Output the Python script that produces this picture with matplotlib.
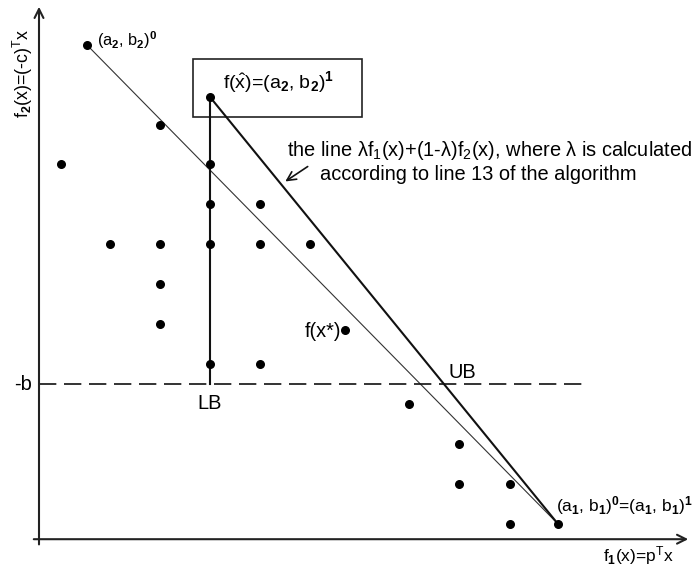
import matplotlib
matplotlib.use("Agg")
import matplotlib.pyplot as plt
from matplotlib.patches import Rectangle

plt.rcParams['font.family'] = ['Liberation Sans', 'DejaVu Sans']
plt.rcParams['mathtext.fontset'] = 'custom'
plt.rcParams['mathtext.rm'] = 'Liberation Sans'
plt.rcParams['mathtext.it'] = 'Liberation Sans'
plt.rcParams['mathtext.bf'] = 'Liberation Sans:bold'

# objective-space points (f1, f2)
pts_x = [1.0, 3.46, 2.46, 0.48, 3.46, 3.46, 4.46, 1.46, 2.46, 3.46, 4.46, 5.46,
         2.46, 2.46, 6.16, 3.46, 4.46, 7.44, 8.44, 8.44, 9.46, 9.46, 10.42]
pts_y = [12.375, 11.075, 10.375, 9.4, 9.4, 8.4, 8.4, 7.4, 7.4, 7.4, 7.4, 7.4,
         6.4, 5.4, 5.25, 4.4, 4.4, 3.4, 2.4, 1.4, 1.4, 0.4, 0.4]

a2b2_0 = (1.0, 12.375)
a2b2_1 = (3.46, 11.075)
a1b1 = (10.42, 0.4)
minus_b = 3.9
dash_end = 10.96

fig = plt.figure(figsize=(6.94, 5.74), dpi=100)
ax = fig.add_axes([0, 0, 1, 1])
ax.set_xlim(-0.74, 13.14)
ax.set_ylim(-0.85, 13.5)
ax.axis('off')

# axes arrows
ax.annotate('', xy=(13.08, 0.02), xytext=(-0.12, 0.02),
            arrowprops=dict(arrowstyle='->', lw=1.5, color='#222222', mutation_scale=16))
ax.annotate('', xy=(0.04, 13.4), xytext=(0.04, -0.18),
            arrowprops=dict(arrowstyle='->', lw=1.5, color='#222222', mutation_scale=16))

# lines
ax.plot([a2b2_0[0], a1b1[0]], [a2b2_0[1], a1b1[1]], color='#333333', lw=0.8)
ax.plot([a2b2_1[0], a1b1[0]], [a2b2_1[1], a1b1[1]], color='#111111', lw=1.5)
ax.plot([a2b2_1[0], a2b2_1[0]], [a2b2_1[1], minus_b], color='#111111', lw=1.5)
ax.plot([0.04, dash_end], [minus_b, minus_b], color='#111111', lw=1.2,
        dashes=(10.4, 4.6))

ax.scatter(pts_x, pts_y, s=30, color='black', zorder=3)

# box around f(x^)
ax.add_patch(Rectangle((3.12, 10.575), 3.38, 1.45, fill=False, lw=1.2, edgecolor='#222222'))

fs = 14.4
ax.text(1.2, 12.5, r'(a$_\mathbf{2}$, b$_\mathbf{2}$)$^\mathbf{0}$', fontsize=11.8, va='center')
ax.text(3.72, 11.45, r'f($\hat{\mathrm{x}}$)=(a$_\mathbf{2}$, b$_\mathbf{2}$)$^\mathbf{1}$',
        fontsize=14, va='center')
ax.text(5.0, 9.75, r'the line $\lambda$f$_1$(x)+(1-$\lambda$)f$_2$(x), where $\lambda$ is calculated',
        fontsize=fs, va='center')
ax.text(5.66, 9.125, 'according to line 13 of the algorithm', fontsize=fs, va='center')
ax.annotate('', xy=(4.92, 8.925), xytext=(5.46, 9.375),
            arrowprops=dict(arrowstyle='->', lw=1.2, color='#111111', mutation_scale=16))
ax.text(6.08, 5.22, 'f(x*)', fontsize=fs, va='center', ha='right')
ax.text(8.22, 4.2, 'UB', fontsize=fs, va='center')
ax.text(3.2, 3.42, 'LB', fontsize=fs, va='center')
ax.text(-0.1, 3.9, '-b', fontsize=fs, va='center', ha='right')
ax.text(10.38, 0.85, r'(a$_\mathbf{1}$, b$_\mathbf{1}$)$^\mathbf{0}$=(a$_\mathbf{1}$, b$_\mathbf{1}$)$^\mathbf{1}$',
        fontsize=12.5, va='center')
ax.text(11.32, -0.4, r'f$_\mathbf{1}$(x)=p$^\mathrm{T}$x', fontsize=12.5, va='center')
ax.text(-0.28, 11.66, r'f$_\mathbf{2}$(x)=(-c)$^\mathrm{T}$x', fontsize=12.8, va='center',
        ha='center', rotation=90)

fig.savefig('out.png', dpi=100)
